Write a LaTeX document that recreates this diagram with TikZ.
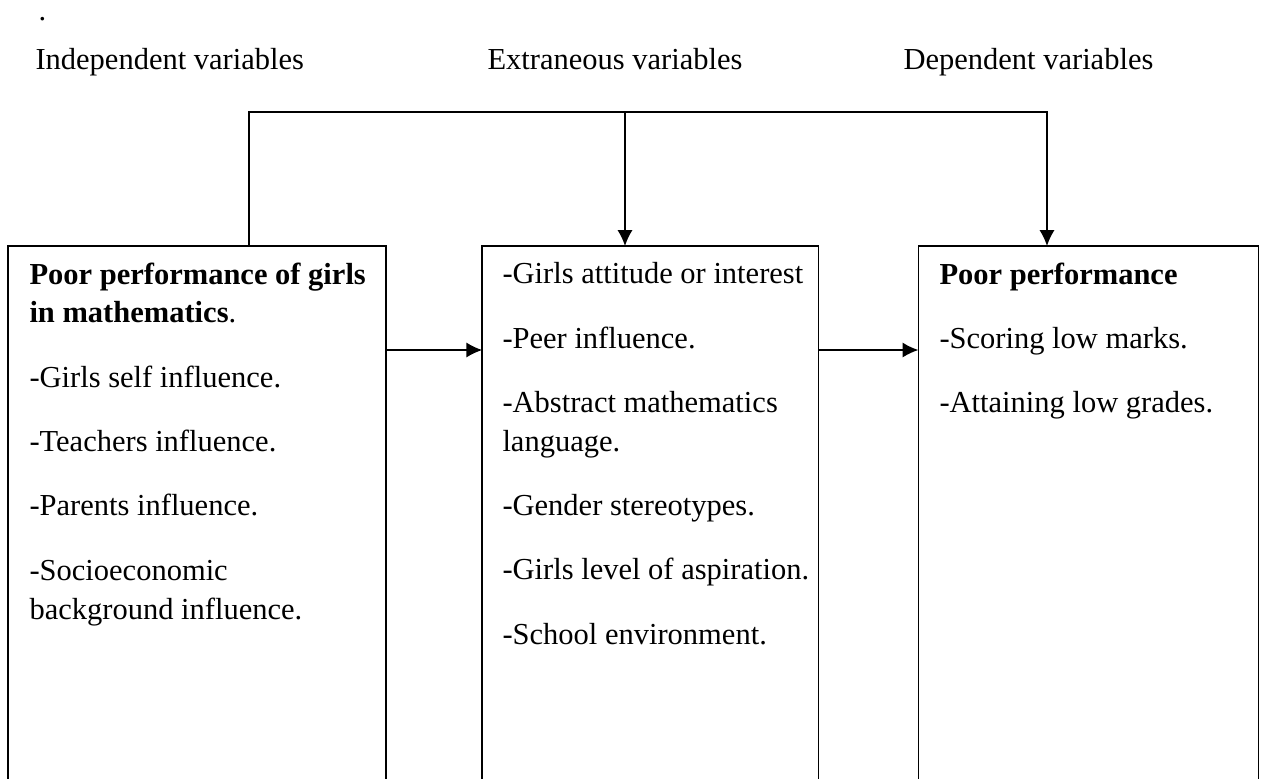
\documentclass[tikz,border=0pt]{standalone}
\usepackage{fontspec}
\setmainfont{Liberation Serif}
\usetikzlibrary{positioning,arrows.meta}
\tikzstyle{block} = [draw, rectangle, line width=0.6pt, minimum height=7.75cm, inner sep=0pt, outer sep=0pt]
\tikzstyle{heading} = [anchor=base west, inner sep=0pt, font=\fontsize{12}{14}\selectfont]
\tikzstyle{items} = [anchor=north west, inner sep=0pt, align=left, font=\fontsize{12}{15.3}\selectfont]
\tikzstyle{connector} = [draw, line width=0.6pt]

\begin{document}
\begin{tikzpicture}[x=0.01383cm, y=-0.01383cm, >={Latex[length=2.2mm,width=2.1mm]}]
 \clip (0,0) rectangle (1264,778);
 % headings
    \node [heading, name=dot] at (38,20) {.};
    \node [heading, name=indephead] at (35,69) {Independent variables};
    \node [heading, name=extrahead] at (487,69) {Extraneous variables};
    \node [heading, name=dephead] at (903,69) {Dependent variables};
 % boxes
    \node [block, anchor=north west, minimum width=5.228cm, name=indep] at (8,246) {};
    \node [block, right=1.328cm of indep, minimum width=4.647cm, name=extra] {};
    \node [block, right=1.383cm of extra, minimum width=4.702cm, name=dep] {};
    \node [items, name=indeptext] at (29,262) {\textbf{Poor performance of girls}\\
      \textbf{in mathematics}.\\[10pt]
      -Girls self influence.\\[10pt]
      -Teachers influence.\\[10pt]
      -Parents influence.\\[10pt]
      -Socioeconomic\\
      background influence.};
    \node [items, name=extratext] at (502,262) {-Girls attitude or interest\\[10pt]
      -Peer influence.\\[10pt]
      -Abstract mathematics\\
      language.\\[10pt]
      -Gender stereotypes.\\[10pt]
      -Girls level of aspiration.\\[10pt]
      -School environment.};
    \node [items, name=deptext] at (939,262) {\textbf{Poor performance}\\[10pt]
      -Scoring low marks.\\[10pt]
      -Attaining low grades.};
 % edges
    \coordinate (splitleft) at (249,112);
    \coordinate (splitmid) at (625,112);
    \coordinate (splitright) at (1047,112);
    \coordinate (midline) at (0,350);
    \draw [connector, ->] (indep.north -| splitleft) -- (splitleft) -- (splitright) -- (splitright |- dep.north);
    \draw [connector, ->] (splitmid) -- (splitmid |- extra.north);
    \draw [connector, ->] (indep.east |- midline) -- (extra.west |- midline);
    \draw [connector, ->] (extra.east |- midline) -- (dep.west |- midline);
\end{tikzpicture}
\end{document}
